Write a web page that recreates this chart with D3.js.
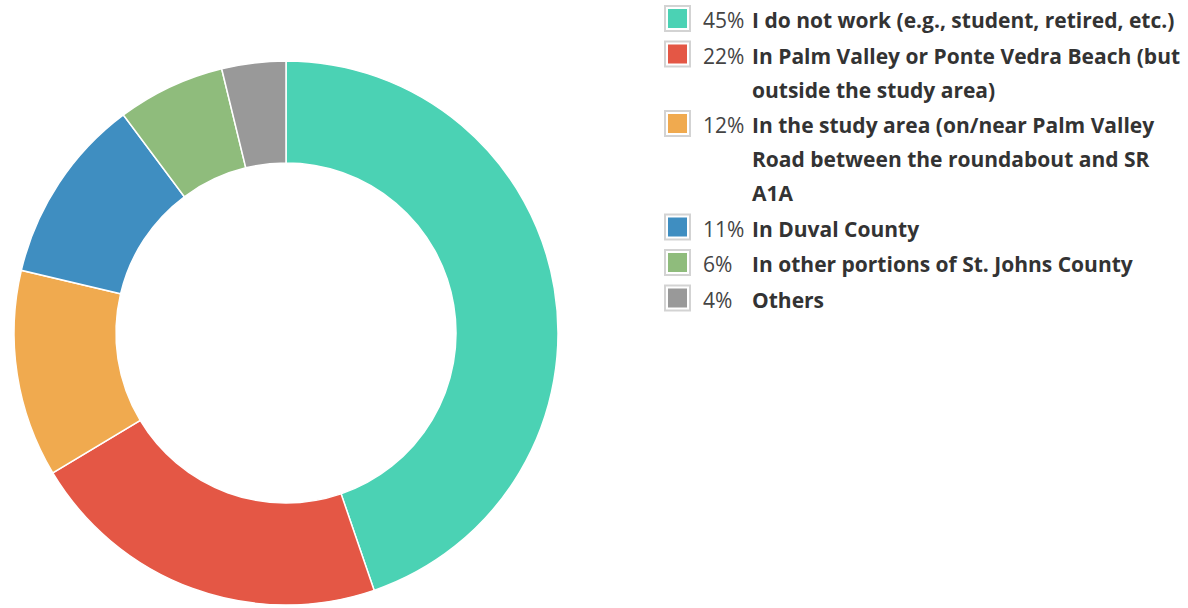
<!DOCTYPE html>
<html>
<head>
<meta charset="utf-8">
<script src="https://cdn.jsdelivr.net/npm/d3@7"></script>
<style>
  body { margin: 0; background: #fff; }
  svg { display: block; font-family: "Open Sans", sans-serif; }
</style>
</head>
<body>
<div id="chart"></div>
<script>
// answers, share of responses (%)
const labels = [
  "I do not work (e.g., student, retired, etc.)",
  "In Palm Valley or Ponte Vedra Beach (but outside the study area)",
  "In the study area (on/near Palm Valley Road between the roundabout and SR A1A",
  "In Duval County",
  "In other portions of St. Johns County",
  "Others"
];
const values = [44.75, 21.65, 12.3, 11.1, 6.4, 3.8];
const pctLabels = ["45%", "22%", "12%", "11%", "6%", "4%"];
const colors = ["#4bd2b4", "#e45745", "#f0aa4f", "#3f8ec1", "#8fbc7c", "#999999"];

const width = 1188, height = 608;

const svg = d3.select("#chart")
  .append("svg")
  .attr("width", width)
  .attr("height", height);

// donut
const cx = 286, cy = 333, outerR = 272, innerR = 170;

const pie = d3.pie().sort(null).value(d => d);
const arc = d3.arc().innerRadius(innerR).outerRadius(outerR);

svg.append("g")
  .attr("transform", "translate(" + cx + "," + cy + ")")
  .selectAll("path")
  .data(pie(values))
  .join("path")
  .attr("d", arc)
  .attr("fill", (d, i) => colors[i])
  .attr("stroke", "#fff")
  .attr("stroke-width", 1.5);

// legend
const lx = 664, lineH = 34, gap = 1.5;
const labelX = 752, wrapW = 430;
const legend = svg.append("g");
let rowTop = 5;

labels.forEach(function (lab, i) {
  const g = legend.append("g").attr("transform", "translate(0," + rowTop + ")");

  g.append("rect")
    .attr("x", lx + 1).attr("y", 1)
    .attr("width", 25).attr("height", 25)
    .attr("fill", "#fff")
    .attr("stroke", "#d3d3d3")
    .attr("stroke-width", 2);
  g.append("rect")
    .attr("x", lx + 4).attr("y", 4)
    .attr("width", 19).attr("height", 19)
    .attr("fill", colors[i]);

  g.append("text")
    .attr("x", 703).attr("y", 23)
    .attr("font-size", 21)
    .attr("fill", "#444")
    .text(pctLabels[i]);

  // word wrap the bold label
  const t = g.append("text")
    .attr("x", labelX).attr("y", 23)
    .attr("font-size", 21)
    .attr("font-weight", "bold")
    .attr("fill", "#333");
  const words = lab.split(" ");
  let line = [], n = 0;
  let tspan = t.append("tspan").attr("x", labelX).attr("dy", 0);
  words.forEach(function (w) {
    line.push(w);
    tspan.text(line.join(" "));
    if (tspan.node().getComputedTextLength() > wrapW && line.length > 1) {
      line.pop();
      tspan.text(line.join(" "));
      line = [w];
      n++;
      tspan = t.append("tspan").attr("x", labelX).attr("dy", lineH).text(w);
    }
  });

  rowTop += (n + 1) * lineH + gap;
});
</script>
</body>
</html>
